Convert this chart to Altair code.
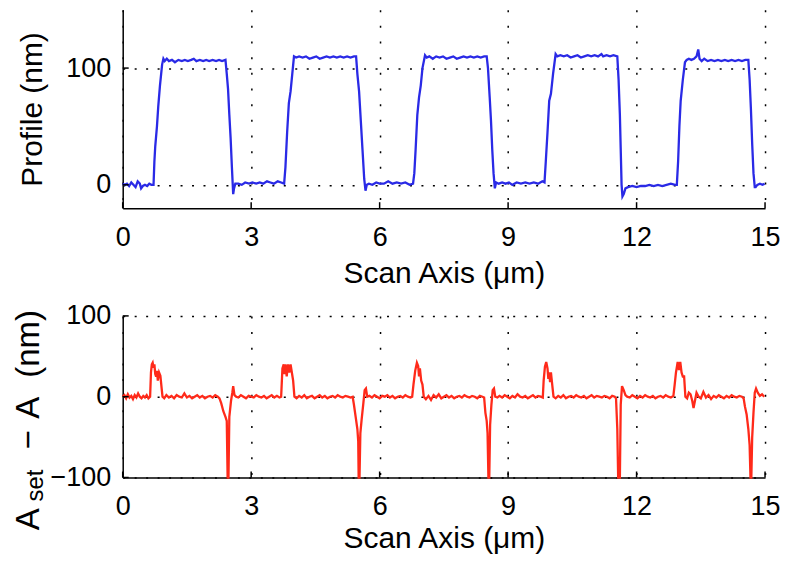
import altair as alt
import pandas as pd

# ---------------- data ----------------
prof_x = [
    0.00, 0.05, 0.10, 0.15, 0.20, 0.25, 0.30, 0.35, 0.40, 0.43, 0.47, 0.52, 0.57, 0.62, 0.67, 0.72,
    0.74, 0.76, 0.80, 0.83, 0.87, 0.92, 0.95,
    0.98, 1.03, 1.08, 1.15, 1.22, 1.30, 1.38, 1.45, 1.52, 1.60, 1.66, 1.72, 1.80, 1.88, 1.95, 2.02,
    2.10, 2.18, 2.25, 2.32, 2.40,
    2.43, 2.46, 2.49, 2.52, 2.55, 2.58, 2.60, 2.63,
    2.70, 2.78, 2.86, 2.95, 3.03, 3.12, 3.20, 3.28, 3.37, 3.45, 3.53, 3.62, 3.70, 3.77,
    3.80, 3.84, 3.88, 3.92, 3.96, 4.00,
    4.05, 4.12, 4.20, 4.28, 4.36, 4.44, 4.52, 4.60, 4.68, 4.76, 4.84, 4.92, 5.00, 5.08, 5.16, 5.24,
    5.32, 5.40, 5.45,
    5.48, 5.52, 5.56, 5.60, 5.64, 5.67, 5.70,
    5.75, 5.83, 5.92, 6.00, 6.10, 6.20, 6.30, 6.40, 6.50, 6.60, 6.70, 6.78,
    6.81, 6.84, 6.88, 6.92, 6.96, 7.00, 7.06,
    7.10, 7.16, 7.24, 7.32, 7.40, 7.48, 7.56, 7.64, 7.72, 7.80, 7.88, 7.96, 8.04, 8.12, 8.20, 8.28,
    8.36, 8.44, 8.50,
    8.53, 8.57, 8.60, 8.63, 8.66, 8.69, 8.72,
    8.78, 8.86, 8.94, 9.02, 9.10, 9.20, 9.30, 9.40, 9.50, 9.60, 9.70, 9.80, 9.85,
    9.88, 9.92, 9.96, 10.00, 10.05, 10.11,
    10.15, 10.22, 10.30, 10.38, 10.46, 10.54, 10.62, 10.70, 10.78, 10.86, 10.94, 11.02, 11.10, 11.18,
    11.22, 11.30, 11.38, 11.46, 11.55,
    11.58, 11.61, 11.63, 11.65, 11.67, 11.70, 11.74,
    11.80, 11.90, 12.00, 12.10, 12.20, 12.30, 12.40, 12.50, 12.60, 12.70, 12.80, 12.90, 12.94,
    12.97, 13.00, 13.03, 13.08, 13.13, 13.17,
    13.22, 13.28, 13.34, 13.40, 13.44, 13.47, 13.52, 13.58, 13.66, 13.74, 13.82, 13.90, 13.98, 14.06,
    14.14, 14.22, 14.30, 14.38, 14.46, 14.54, 14.61,
    14.64, 14.67, 14.70, 14.73, 14.76, 14.78, 14.82,
    14.88, 14.94, 14.99,
]
prof_y = [
    1, 0, 1, -1, 2, 0, -2, 3, 1, -3, -1, 0, -1, 1, 0, 0,
    20, 33, 50, 67, 85, 103, 108,
    106, 108, 106, 107, 105, 107, 106, 107, 106, 107, 108, 106, 107, 106, 107, 106,
    107, 106, 107, 106, 107,
    95, 82, 60, 40, 15, -8, -3, 1,
    1, 0, 2, 1, 2, 1, 2, 1, 3, 2, 1, 3, 2, 1,
    15, 45, 70, 80, 95, 110,
    109, 110, 109, 110, 108, 109, 110, 108, 109, 110, 109, 110, 109, 110, 109, 110,
    109, 110, 110,
    95, 80, 55, 30, 5, -5, 0,
    1, 0, 2, 1, 1, 3, 1, 2, 1, 2, 0, 1,
    10, 30, 60, 75, 85, 100, 111,
    109, 110, 108, 110, 109, 110, 108, 109, 110, 108, 109, 110, 109, 110, 109, 110,
    109, 110, 110,
    100, 75, 55, 30, 10, -3, 2,
    1, 2, 1, 2, 0, 2, 1, 2, 1, 2, 1, 3, 2,
    20, 45, 72, 78, 95, 112,
    110, 111, 110, 111, 109, 110, 111, 109, 110, 111, 110, 111, 110, 112,
    110, 111, 110, 111, 110,
    90, 60, 30, 0, -10, -8, -3,
    -2, -1, -2, -1, -1, 0, -1, 0, -1, 0, 1, 0, 0,
    20, 50, 72, 90, 105, 107,
    108, 107, 108, 110, 116, 108, 106, 108, 106, 107, 106, 107, 106, 107,
    106, 107, 106, 107, 106, 107, 107,
    90, 65, 35, 10, -2, -2, 0,
    1, 0, 1,
]

err_x = [
    0.00, 0.04, 0.08, 0.12, 0.16, 0.20, 0.24, 0.28, 0.32, 0.36, 0.40, 0.44, 0.48, 0.52, 0.56, 0.60, 0.64,
    0.66, 0.68, 0.70, 0.72, 0.74, 0.76, 0.78, 0.80, 0.82, 0.85, 0.88, 0.91, 0.93,
    0.97, 1.02, 1.08, 1.14, 1.20, 1.26, 1.32, 1.38, 1.44, 1.50, 1.56, 1.62, 1.68, 1.74, 1.80, 1.86,
    1.92, 1.98, 2.04, 2.10, 2.16, 2.22, 2.26,
    2.30, 2.35, 2.40, 2.43, 2.45, 2.47, 2.49, 2.53, 2.56, 2.58, 2.61, 2.65,
    2.70, 2.76, 2.82, 2.88, 2.94, 3.00, 3.06, 3.12, 3.18, 3.24, 3.30, 3.36, 3.42, 3.48, 3.54, 3.60,
    3.66, 3.70,
    3.73, 3.76, 3.78, 3.80, 3.83, 3.86, 3.89, 3.92, 3.95, 3.98, 4.01,
    4.06, 4.12, 4.18, 4.24, 4.30, 4.36, 4.42, 4.48, 4.54, 4.60, 4.66, 4.72, 4.78, 4.84, 4.90, 4.96,
    5.02, 5.08, 5.14, 5.20, 5.26, 5.32, 5.37,
    5.40, 5.44, 5.48, 5.50, 5.51, 5.53, 5.55, 5.58, 5.62, 5.65, 5.68, 5.71,
    5.76, 5.82, 5.88, 5.94, 6.00, 6.06, 6.12, 6.18, 6.24, 6.30, 6.36, 6.42, 6.48, 6.54, 6.60, 6.66,
    6.72, 6.76,
    6.79, 6.83, 6.87, 6.90, 6.92, 6.94, 6.97, 7.00, 7.03,
    7.08, 7.14, 7.20, 7.26, 7.32, 7.38, 7.44, 7.50, 7.56, 7.62, 7.68, 7.74, 7.80, 7.86, 7.92, 7.98,
    8.04, 8.10, 8.16, 8.22, 8.28, 8.34, 8.40, 8.44,
    8.47, 8.50, 8.52, 8.54, 8.56, 8.58, 8.61, 8.64, 8.67, 8.70,
    8.75, 8.80, 8.86, 8.92, 8.98, 9.04, 9.10, 9.16, 9.22, 9.28, 9.34, 9.40, 9.46, 9.52, 9.58, 9.64,
    9.70, 9.76, 9.81,
    9.83, 9.86, 9.89, 9.92, 9.94, 9.96, 9.98, 10.00, 10.03, 10.06,
    10.11, 10.17, 10.23, 10.29, 10.35, 10.41, 10.47, 10.53, 10.59, 10.65, 10.71, 10.77, 10.83, 10.89,
    10.95, 11.01, 11.07, 11.13, 11.19, 11.25, 11.31, 11.37, 11.43, 11.49, 11.52,
    11.55, 11.57, 11.59, 11.61, 11.63, 11.66, 11.70, 11.74, 11.78,
    11.84, 11.90, 11.96, 12.02, 12.08, 12.14, 12.20, 12.26, 12.32, 12.38, 12.44, 12.50, 12.56, 12.62,
    12.68, 12.74, 12.80, 12.86,
    12.89, 12.92, 12.96, 12.99, 13.02, 13.05, 13.08, 13.11, 13.14,
    13.18, 13.22, 13.26, 13.30, 13.33, 13.36, 13.40, 13.45, 13.50, 13.56, 13.62, 13.68, 13.74, 13.80,
    13.86, 13.92, 13.98, 14.04, 14.10, 14.16, 14.22, 14.28, 14.34, 14.40, 14.46, 14.50,
    14.53, 14.57, 14.61, 14.64, 14.66, 14.68, 14.70, 14.73, 14.76, 14.79, 14.83, 14.88, 14.93, 14.98,
]
err_y = [
    0, 2, -2, 3, -1, 1, -3, 2, -1, 4, 0, -2, 1, -1, 2, -2, 0,
    30, 40, 42, 36, 40, 28, 25, 32, 20, 30, 26, 10, 0,
    -2, 2, -1, 1, -2, 2, 0, -1, 4, -1, 1, -2, 0, 2, -1, 1,
    -2, 0, 1, -1, 2, 0, -2,
    -8, -18, -25, -30, -100, -100, -25, -5, 5, 13, 2, 0,
    -1, 2, 0, -2, 1, 0, -1, 2, 0, -1, 1, -2, 0, 2, -1, 1,
    -1, 0,
    35, 40, 28, 40, 25, 40, 30, 40, 30, 20, 0,
    -2, 1, -1, 2, -2, 0, 1, -2, 0, 2, -1, 1, -2, 0, 1, -1,
    2, 0, -1, 1, 0, -1, 0,
    -10, -25, -40, -55, -100, -100, -45, -28, -8, 8, 10, 0,
    1, -1, 2, 0, -2, 1, 0, 2, -1, 1, -2, 0, 1, -1, 2, 0,
    -1, 0,
    15, 32, 42, 38, 25, 35, 20, 15, 0,
    -3, 1, -4, 2, -1, 3, -2, 0, 2, -1, 1, -2, 0, 1, -1, 2,
    0, -1, 1, 0, -2, 1, 0, -1,
    -20, -30, -45, -100, -100, -35, -10, 8, 10, 0,
    -1, 1, -1, 2, 0, -2, 1, -1, 3, 0, -1, 1, -2, 0, 2, -1,
    1, 0, -1,
    20, 37, 43, 35, 22, 30, 18, 30, 15, 0,
    -2, 1, -1, 2, -2, 0, 1, -1, 2, 0, -1, 1, -2, 0,
    2, -1, 1, 0, -1, 1, 0, -2, 1, 0, -2,
    -40, -100, -100, -100, -10, 13, 8, 2, 0,
    -1, 2, 0, -2, 1, -1, 2, 0, -1, 1, -2, 0, 1, -1,
    2, 0, -1, 1,
    15, 30, 43, 33, 43, 30, 25, 25, 0,
    -2, 5, 3, -5, -14, -6, 5, 0, -2, 6, -1, 2, -3, 1,
    -1, 2, 0, -2, 1, -1, 2, 0, -1, 1, 0, -2,
    -12, -22, -40, -60, -100, -100, -50, -20, 5, 10, 5, 1, 3, 0,
]

x_ticks = [0, 3, 6, 9, 12, 15]
top_y_ticks = [0, 100]
bot_y_ticks = [-100, 0, 100]
x_title = "Scan Axis (μm)"
top_y_title = "Profile (nm)"
bot_title_parts = ["A", "set", "−", "A", "(nm)"]

# ---------------- chart ----------------
FONT = "Liberation Sans"
W = 644
H1 = 199
H2 = 162
BLUE = "#2a2ae6"
RED = "#ff2a1a"

prof_df = pd.DataFrame({"x": prof_x, "y": prof_y})
err_df = pd.DataFrame({"x": err_x, "y": err_y})
xt_df = pd.DataFrame({"t": x_ticks})

xscale = alt.Scale(domain=[0, 15], nice=False, zero=False)

def x_axis(tp):
    return alt.Axis(values=x_ticks, title=x_title, gridDash=[2, 13.7], labelPadding=16,
                    titlePadding=tp, format="d", labelFlush=False)

top_scale = alt.Scale(domain=[-20, 150], nice=False, zero=False)
top_line = alt.Chart(prof_df).mark_line(color=BLUE, strokeWidth=2.3).encode(
    x=alt.X("x:Q", scale=xscale, axis=x_axis(9)),
    y=alt.Y("y:Q", scale=top_scale,
            axis=alt.Axis(values=top_y_ticks, title=top_y_title, gridDash=[2, 9.5],
                          labelPadding=12, titlePadding=18)),
)
top_xt = alt.Chart(xt_df).mark_rule(color="black", strokeWidth=1.5).encode(
    x=alt.X("t:Q", scale=xscale), y=alt.value(H1), y2=alt.value(H1 - 6))
top_yt = alt.Chart(pd.DataFrame({"t": top_y_ticks})).mark_rule(color="black", strokeWidth=1.5).encode(
    y=alt.Y("t:Q", scale=top_scale), x=alt.value(0), x2=alt.value(6))
top = alt.layer(top_line, top_xt, top_yt).properties(width=W, height=H1)

bot_scale = alt.Scale(domain=[-100, 100], nice=False, zero=False)
bot_line = alt.Chart(err_df).mark_line(color=RED, strokeWidth=2.3).encode(
    x=alt.X("x:Q", scale=xscale, axis=x_axis(4)),
    y=alt.Y("y:Q", scale=bot_scale,
            axis=alt.Axis(values=bot_y_ticks, title="", gridDash=[2, 9.5],
                          labelPadding=12, titlePadding=0)),
)
bot_xt = alt.Chart(xt_df).mark_rule(color="black", strokeWidth=1.5).encode(
    x=alt.X("t:Q", scale=xscale), y=alt.value(H2), y2=alt.value(H2 - 6))
bot_yt = alt.Chart(pd.DataFrame({"t": bot_y_ticks})).mark_rule(color="black", strokeWidth=1.5).encode(
    y=alt.Y("t:Q", scale=bot_scale), x=alt.value(0), x2=alt.value(6))

# composite rotated title  A_set − A (nm)
one = pd.DataFrame({"k": [0]})
specs = [  # (text index, x px, y px, font size)
    (0, -84, 215, 33),
    (1, -80, 186, 24),
    (2, -84, 134, 33),
    (3, -84, 103, 33),
    (4, -84, 62, 33),
]
title_layers = []
for idx, xp, yp, fs in specs:
    title_layers.append(
        alt.Chart(one).mark_text(text=bot_title_parts[idx], angle=270, align="left",
                                 baseline="alphabetic", font=FONT, fontSize=fs, color="black")
        .encode(x=alt.value(xp), y=alt.value(yp))
    )

bot = alt.layer(bot_line, bot_xt, bot_yt, *title_layers).properties(width=W, height=H2)

chart = alt.vconcat(top, bot, spacing=13).properties(
    padding={"left": 5, "top": 1, "right": 0, "bottom": 0}
).configure_view(stroke=None).configure_axis(
    domainColor="black", domainWidth=1.5, ticks=False,
    labelFont=FONT, labelFontSize=27, labelColor="black",
    titleFont=FONT, titleFontSize=30, titleFontWeight="normal", titleColor="black",
    grid=True, gridColor="black", gridWidth=1.5, gridOpacity=1,
).configure_concat(spacing=13)

chart.save("out.html", embed_options={"renderer": "svg", "actions": False})
